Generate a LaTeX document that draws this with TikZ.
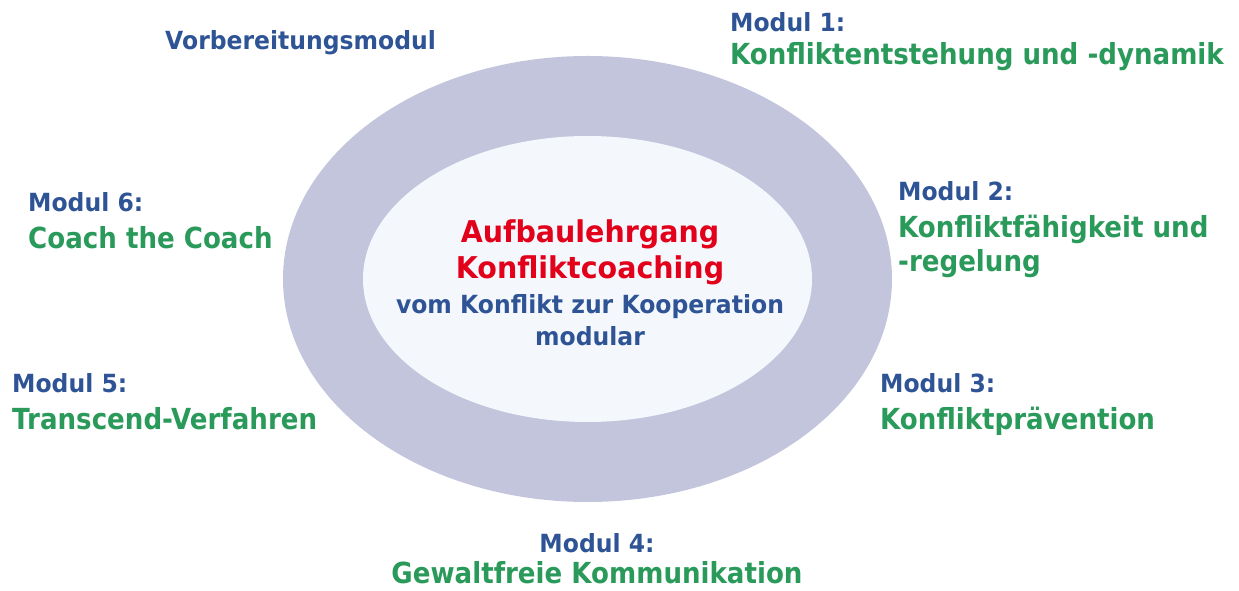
\documentclass[tikz,border=0pt]{standalone}
\usepackage{fontspec}
\setmainfont{DejaVu Sans}
\newfontfamily\headfont[FakeStretch=0.94]{DejaVu Sans}
\newfontfamily\titlefont[FakeStretch=0.9]{DejaVu Sans}
\newfontfamily\corefont[FakeStretch=0.95]{DejaVu Sans}
\usepackage{tikz}
\usetikzlibrary{shapes.geometric,positioning}
\definecolor{modblue}{HTML}{2F5496}
\definecolor{modgreen}{HTML}{2A9A5B}
\definecolor{titlered}{HTML}{E2001A}
\definecolor{ringfill}{HTML}{C3C5DD}
\definecolor{corefill}{HTML}{F4F8FC}

\begin{document}
\begin{tikzpicture} [x=1pt, y=1pt
  , ring/.style={ellipse, inner sep=0pt, draw=none}
  , modhead/.style={font=\headfont\fontsize{25}{30}\selectfont\bfseries, text=modblue, inner sep=0pt}
  , modtitle/.style={font=\titlefont\fontsize{29}{34}\selectfont\bfseries, text=modgreen, inner sep=0pt}
  , coretitle/.style={font=\corefont\fontsize{30}{36}\selectfont\bfseries, text=titlered, inner sep=0pt}
  , coresub/.style={font=\headfont\fontsize{25}{30}\selectfont\bfseries, text=modblue, inner sep=0pt}
]
  \useasboundingbox (0,0) rectangle (1239,591);
  % rings
  \node[ring, fill=ringfill, minimum width=609pt, minimum height=446pt] (outer) at (587.5,312) {};
  \node[ring, fill=corefill, minimum width=449pt, minimum height=286pt] (inner) at (outer.center) {};
  % centre text
  \node[coretitle, anchor=base] (aufbau) at (590,348) {Aufbaulehrgang};
  \node[coretitle, anchor=base] (coaching) at ([yshift=-36pt]aufbau.base) {Konfliktcoaching};
  \node[coresub, anchor=base] (kooperation) at ([yshift=-35pt]coaching.base) {vom Konflikt zur Kooperation};
  \node[coresub, anchor=base] (modular) at ([yshift=-32pt]kooperation.base) {modular};
  % modules
  \node[modhead, anchor=base west] (vorb) at (165,541) {Vorbereitungsmodul};
  \node[modhead, anchor=base west] (m1) at (730,559) {Modul 1:};
  \node[modtitle, anchor=base west] (t1) at ([yshift=-33pt]m1.base west) {Konfliktentstehung und -dynamik};
  \node[modhead, anchor=base west] (m2) at (898,390) {Modul 2:};
  \node[modtitle, anchor=base west] (t2) at ([yshift=-37pt]m2.base west) {Konfliktfähigkeit und};
  \node[modtitle, anchor=base west] (t2b) at ([yshift=-34pt]t2.base west) {-regelung};
  \node[modhead, anchor=base west] (m3) at (880,198) {Modul 3:};
  \node[modtitle, anchor=base west] (t3) at ([yshift=-37pt]m3.base west) {Konfliktprävention};
  \node[modhead, anchor=base] (m4) at (597,38) {Modul 4:};
  \node[modtitle, anchor=base] (t4) at ([yshift=-31pt]m4.base) {Gewaltfreie Kommunikation};
  \node[modhead, anchor=base west] (m5) at (12,198) {Modul 5:};
  \node[modtitle, anchor=base west] (t5) at ([yshift=-37pt]m5.base west) {Transcend-Verfahren};
  \node[modhead, anchor=base west] (m6) at (28,379) {Modul 6:};
  \node[modtitle, anchor=base west] (t6) at ([yshift=-37pt]m6.base west) {Coach the Coach};
\end{tikzpicture}
\end{document}
